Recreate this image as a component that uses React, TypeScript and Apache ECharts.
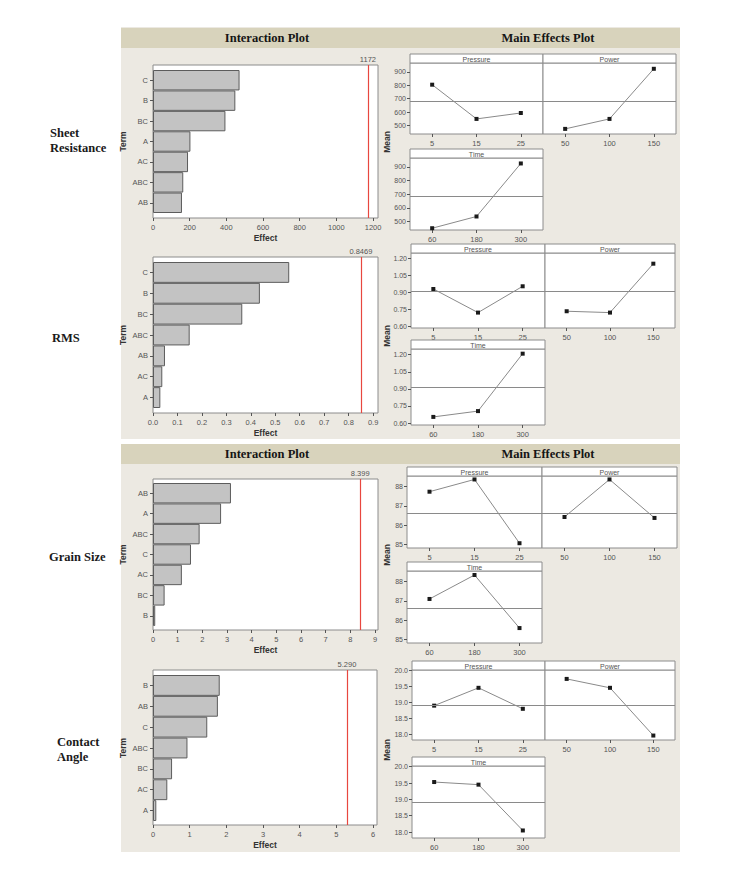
import React, { useEffect, useRef } from "react";
import * as echarts from "echarts";

// ---------------- Interaction (Pareto) plot data ----------------
const sheetTerms = ["C", "B", "BC", "A", "AC", "ABC", "AB"];
const sheetEffects = [472, 449, 395, 204, 191, 165, 158];
const sheetThreshold = 1172;
const sheetThresholdLabel = "1172";
const sheetEffectTicks = [0, 200, 400, 600, 800, 1000, 1200];

const rmsTerms = ["C", "B", "BC", "ABC", "AB", "AC", "A"];
const rmsEffects = [0.557, 0.437, 0.365, 0.15, 0.049, 0.038, 0.03];
const rmsThreshold = 0.8469;
const rmsThresholdLabel = "0.8469";
const rmsEffectTicks = [0, 0.1, 0.2, 0.3, 0.4, 0.5, 0.6, 0.7, 0.8, 0.9];

const grainTerms = ["AB", "A", "ABC", "C", "AC", "BC", "B"];
const grainEffects = [3.16, 2.76, 1.89, 1.54, 1.17, 0.47, 0.09];
const grainThreshold = 8.399;
const grainThresholdLabel = "8.399";
const grainEffectTicks = [0, 1, 2, 3, 4, 5, 6, 7, 8, 9];

const contactTerms = ["B", "AB", "C", "ABC", "BC", "AC", "A"];
const contactEffects = [1.82, 1.77, 1.48, 0.94, 0.52, 0.39, 0.09];
const contactThreshold = 5.29;
const contactThresholdLabel = "5.290";
const contactEffectTicks = [0, 1, 2, 3, 4, 5, 6];

// ---------------- Main effects plot data ----------------
const factorNames = ["Pressure", "Power", "Time"];
const pressureLevels = ["5", "15", "25"];
const powerLevels = ["50", "100", "150"];
const timeLevels = ["60", "180", "300"];

const sheetPressureMeans = [804, 550, 594];
const sheetPowerMeans = [476, 550, 922];
const sheetTimeMeans = [451, 537, 925];
const sheetGrandMean = 682;
const sheetMeanTicks = [500, 600, 700, 800, 900];

const rmsPressureMeans = [0.93, 0.72, 0.954];
const rmsPowerMeans = [0.732, 0.72, 1.155];
const rmsTimeMeans = [0.654, 0.705, 1.209];
const rmsGrandMean = 0.912;
const rmsMeanTicks = [0.6, 0.75, 0.9, 1.05, 1.2];

const grainPressureMeans = [87.74, 88.38, 85.05];
const grainPowerMeans = [86.42, 88.38, 86.37];
const grainTimeMeans = [87.1, 88.35, 85.58];
const grainGrandMean = 86.64;
const grainMeanTicks = [85, 86, 87, 88];

const contactPressureMeans = [18.9, 19.46, 18.8];
const contactPowerMeans = [19.74, 19.46, 17.96];
const contactTimeMeans = [19.53, 19.45, 18.05];
const contactGrandMean = 18.91;
const contactMeanTicks = [18.0, 18.5, 19.0, 19.5, 20.0];

const rowNames = [["Sheet", "Resistance"], ["RMS"], ["Grain Size"], ["Contact", "Angle"]];

const blocks = [
  {
    terms: sheetTerms, effects: sheetEffects, threshold: sheetThreshold, thresholdLabel: sheetThresholdLabel,
    effectTicks: sheetEffectTicks, effectDigits: 0,
    means: [sheetPressureMeans, sheetPowerMeans, sheetTimeMeans], grandMean: sheetGrandMean,
    meanTicks: sheetMeanTicks, meanDigits: 0,
  },
  {
    terms: rmsTerms, effects: rmsEffects, threshold: rmsThreshold, thresholdLabel: rmsThresholdLabel,
    effectTicks: rmsEffectTicks, effectDigits: 1,
    means: [rmsPressureMeans, rmsPowerMeans, rmsTimeMeans], grandMean: rmsGrandMean,
    meanTicks: rmsMeanTicks, meanDigits: 2,
  },
  {
    terms: grainTerms, effects: grainEffects, threshold: grainThreshold, thresholdLabel: grainThresholdLabel,
    effectTicks: grainEffectTicks, effectDigits: 0,
    means: [grainPressureMeans, grainPowerMeans, grainTimeMeans], grandMean: grainGrandMean,
    meanTicks: grainMeanTicks, meanDigits: 0,
  },
  {
    terms: contactTerms, effects: contactEffects, threshold: contactThreshold, thresholdLabel: contactThresholdLabel,
    effectTicks: contactEffectTicks, effectDigits: 0,
    means: [contactPressureMeans, contactPowerMeans, contactTimeMeans], grandMean: contactGrandMean,
    meanTicks: contactMeanTicks, meanDigits: 1,
  },
];

// ---------------- layout (positions only) ----------------
const layouts = [
  {
    box: [153, 65, 378, 218], bars: [70, 213], effMax: 1227,
    panels: [[410, 54, 543, 134], [543, 54, 676, 134], [410, 149, 543, 230]],
    yRange: [438, 965], meanLabelY: 142,
    rowLabel: { x: 50, y: 133 },
  },
  {
    box: [153, 257, 378, 413], bars: [262, 408], effMax: 0.92,
    panels: [[411, 244, 545, 328], [545, 244, 675, 328], [411, 340, 545, 425]],
    yRange: [0.583, 1.25], meanLabelY: 336,
    rowLabel: { x: 52, y: 338 },
  },
  {
    box: [153, 479, 378, 630], bars: [483, 626], effMax: 9.12,
    panels: [[407, 467, 542, 548], [542, 467, 677, 548], [407, 562, 542, 643]],
    yRange: [84.8, 88.56], meanLabelY: 555,
    rowLabel: { x: 49, y: 557 },
  },
  {
    box: [153, 670, 377, 825], bars: [675, 821], effMax: 6.11,
    panels: [[412, 661, 545, 740], [545, 661, 675, 740], [412, 757, 545, 838]],
    yRange: [17.82, 20.02], meanLabelY: 750,
    rowLabel: { x: 57, y: 742 },
  },
];

const FONT = "'Liberation Sans', Arial, sans-serif";
const SERIF = "'Liberation Serif', 'Times New Roman', serif";
const AX = "#555";
const BORDER = "#8c8c8c";
const BG = "#ece9e2";
const HEAD = "#d8d3bc";
const RED = "#e8473f";
const HDR = 9;

function tickFormatter(ticks: number[], digits: number) {
  return (v: number) =>
    ticks.some((t) => Math.abs(t - v) < 1e-6 * Math.max(1, Math.abs(t))) ? v.toFixed(digits) : "";
}

function buildOption() {
  const grids: any[] = [];
  const xAxes: any[] = [];
  const yAxes: any[] = [];
  const series: any[] = [];
  const graphics: any[] = [];

  const addGrid = (l: number, t: number, r: number, b: number, extra: any = {}) => {
    grids.push({ left: l, top: t, width: r - l, height: b - t, containLabel: false, outerBoundsMode: "none", ...extra });
    return grids.length - 1;
  };

  // backgrounds
  graphics.push({ type: "rect", z: -10, shape: { x: 121, y: 27, width: 559, height: 412 }, style: { fill: BG } });
  graphics.push({ type: "rect", z: -10, shape: { x: 121, y: 444, width: 559, height: 408 }, style: { fill: BG } });
  for (const hy of [28, 444]) {
    graphics.push({ type: "rect", z: -9, shape: { x: 121, y: hy, width: 559, height: 20 }, style: { fill: HEAD } });
    graphics.push({
      type: "text", z: 5, x: 267, y: hy + 10,
      style: { text: "Interaction Plot", font: `bold 12.5px ${SERIF}`, fill: "#151515", textAlign: "center", textVerticalAlign: "middle", align: "center", verticalAlign: "middle" },
    });
    graphics.push({
      type: "text", z: 5, x: 548, y: hy + 10,
      style: { text: "Main Effects Plot", font: `bold 12.5px ${SERIF}`, fill: "#151515", textAlign: "center", textVerticalAlign: "middle", align: "center", verticalAlign: "middle" },
    });
  }

  blocks.forEach((blk, bi) => {
    const L = layouts[bi];
    const [x0, y0, x1, y1] = L.box;

    // row label
    rowNames[bi].forEach((line, li) => {
      graphics.push({
        type: "text", z: 5, x: L.rowLabel.x, y: L.rowLabel.y + li * 15,
        style: { text: line, font: `bold 12.5px ${SERIF}`, fill: "#1a1a1a", textAlign: "left", textVerticalAlign: "middle", align: "left", verticalAlign: "middle" },
      });
    });

    // ----- Pareto box grid (axis + threshold line)
    const gBox = addGrid(x0, y0, x1, y1, { show: true, backgroundColor: "#fff", borderColor: BORDER, borderWidth: 1 });
    const step = blk.effectTicks[1] - blk.effectTicks[0];
    xAxes.push({
      gridIndex: gBox, type: "value", min: 0, max: L.effMax, interval: step,
      axisLine: { show: false },
      axisTick: { show: true, length: 3, lineStyle: { color: AX }, customValues: blk.effectTicks },
      axisLabel: { fontSize: 7.5, color: AX, fontFamily: FONT, margin: 5, customValues: blk.effectTicks, formatter: tickFormatter(blk.effectTicks, blk.effectDigits) },
      splitLine: { show: false },
      name: "Effect", nameLocation: "middle", nameGap: 15,
      nameTextStyle: { fontSize: 8.5, color: "#333", fontFamily: FONT, fontWeight: "bold" },
    });
    yAxes.push({ gridIndex: gBox, type: "value", min: 0, max: 1, show: false });

    // ----- bars grid
    const gBar = addGrid(x0, L.bars[0], x1, L.bars[1]);
    xAxes.push({ gridIndex: gBar, type: "value", min: 0, max: L.effMax, show: false });
    yAxes.push({
      gridIndex: gBar, type: "category", data: blk.terms, inverse: true,
      axisLine: { show: false },
      axisTick: { show: true, alignWithLabel: true, length: 3, lineStyle: { color: AX } },
      axisLabel: { fontSize: 7.5, color: AX, fontFamily: FONT, margin: 5 },
      name: "Term", nameLocation: "middle", nameRotate: 90, nameGap: 26,
      nameTextStyle: { fontSize: 8.5, color: "#333", fontFamily: FONT, fontWeight: "bold" },
    });
    series.push({
      type: "bar", xAxisIndex: gBar, yAxisIndex: gBar, data: blk.effects, barCategoryGap: "0%",
      itemStyle: { color: "#c3c3c3", borderColor: "#5c5c5c", borderWidth: 1 },
      silent: true,
    });
    series.push({
      type: "line", xAxisIndex: gBox, yAxisIndex: gBox, data: [], silent: true, color: RED,
      markLine: {
        silent: true, symbol: ["none", "none"],
        data: [{ xAxis: blk.threshold, lineStyle: { color: RED, width: 1.2, type: "solid" } }],
        itemStyle: { color: RED },
        lineStyle: { color: RED, width: 1.2, type: "solid", opacity: 1 },
        label: { show: true, position: "end", formatter: blk.thresholdLabel, fontSize: 7.5, color: "#555", fontFamily: FONT, distance: 2 },
      },
    });

    // ----- Main effects panels
    const levelSets = [pressureLevels, powerLevels, timeLevels];
    const mStep = blk.meanTicks[1] - blk.meanTicks[0];
    L.panels.forEach((p, k) => {
      const [px0, py0, px1, py1] = p;
      const g = addGrid(px0, py0 + HDR, px1, py1, { show: true, backgroundColor: "#fff", borderColor: BORDER, borderWidth: 1 });
      xAxes.push({
        gridIndex: g, type: "category", data: levelSets[k], boundaryGap: true,
        axisLine: { show: false },
        axisTick: { show: true, alignWithLabel: true, length: 3, lineStyle: { color: AX } },
        axisLabel: { fontSize: 7.5, color: AX, fontFamily: FONT, margin: 5 },
      });
      yAxes.push({
        gridIndex: g, type: "value", min: L.yRange[0], max: L.yRange[1],
        minInterval: mStep, maxInterval: mStep,
        axisLine: { show: false },
        axisTick: { show: k !== 1, length: 3, lineStyle: { color: AX }, customValues: blk.meanTicks },
        axisLabel: { show: k !== 1, fontSize: 7, color: AX, fontFamily: FONT, margin: 4, customValues: blk.meanTicks, formatter: tickFormatter(blk.meanTicks, blk.meanDigits) },
        splitLine: { show: false },
      });
      series.push({
        type: "line", xAxisIndex: g, yAxisIndex: g, data: blk.means[k], silent: true,
        symbol: "rect", symbolSize: 4,
        lineStyle: { color: "#8a8a8a", width: 1 },
        itemStyle: { color: "#1a1a1a" },
        markLine: {
          silent: true, symbol: ["none", "none"], label: { show: false },
          lineStyle: { color: "#8a8a8a", width: 1, type: "solid" },
          data: [{ yAxis: blk.grandMean }],
        },
      });
      graphics.push({
        type: "rect", z: 1, shape: { x: px0, y: py0, width: px1 - px0, height: HDR },
        style: { fill: "#fff", stroke: BORDER, lineWidth: 1 },
      });
      graphics.push({
        type: "text", z: 2, x: (px0 + px1) / 2, y: py0 + HDR / 2 + 0.5,
        style: { text: factorNames[k], font: `7px ${FONT}`, fill: "#555", textAlign: "center", textVerticalAlign: "middle", align: "center", verticalAlign: "middle" },
      });
    });

    // Mean label
    graphics.push({
      type: "text", z: 5, x: 387, y: L.meanLabelY, rotation: Math.PI / 2,
      style: { text: "Mean", font: `bold 8.5px ${FONT}`, fill: "#333", textAlign: "center", textVerticalAlign: "middle", align: "center", verticalAlign: "middle" },
    });
  });

  return {
    animation: false,
    backgroundColor: "#fff",
    grid: grids,
    xAxis: xAxes,
    yAxis: yAxes,
    series,
    graphic: { elements: graphics },
  };
}

export default function App() {
  const ref = useRef<HTMLDivElement>(null);
  useEffect(() => {
    if (!ref.current) return;
    const chart = echarts.init(ref.current, null, { renderer: "svg" });
    chart.setOption(buildOption() as any);
    return () => chart.dispose();
  }, []);
  return (
    <div
      ref={ref}
      style={{ position: "absolute", left: 0, top: 0, width: 730, height: 892 }}
    />
  );
}
